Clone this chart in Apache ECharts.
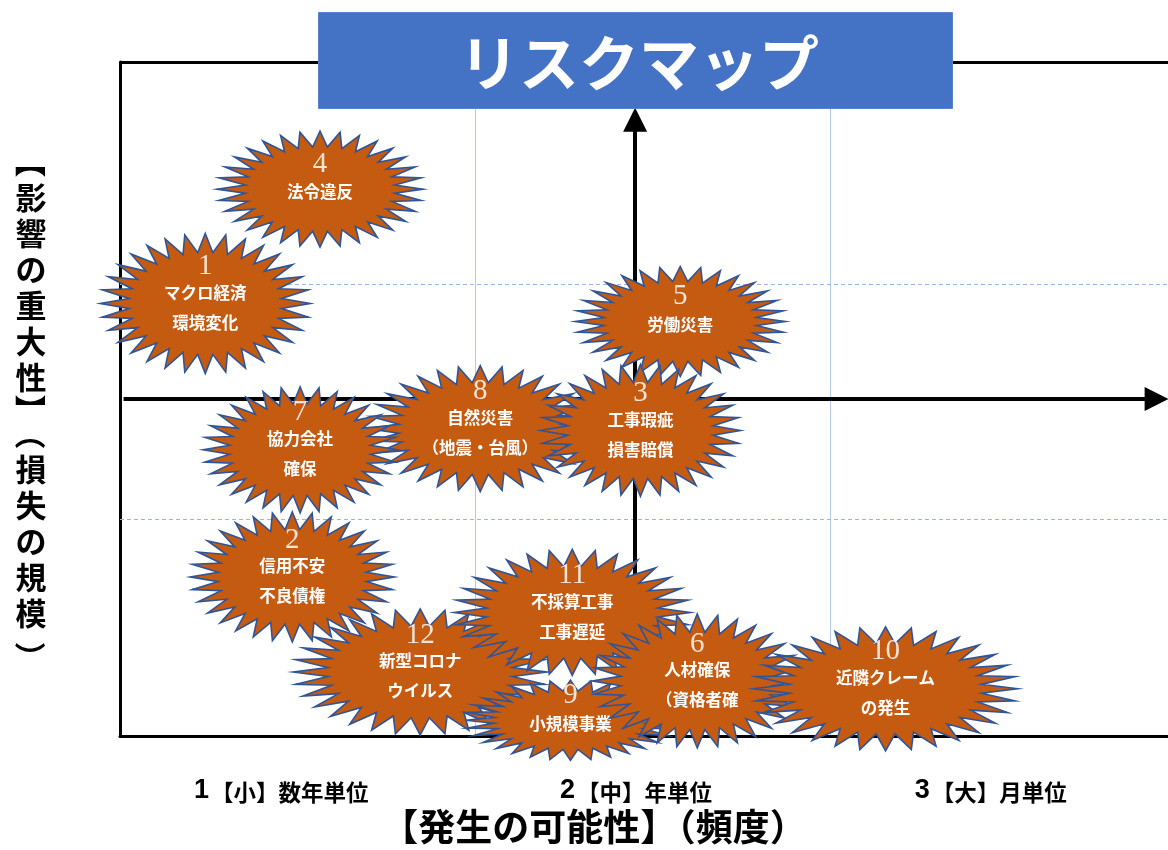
<!DOCTYPE html>
<html>
<head>
<meta charset="utf-8">
<script src="https://cdn.jsdelivr.net/npm/echarts@6/dist/echarts.min.js"></script>
<style>
html,body{margin:0;padding:0;background:#fff;}
#chart{width:1168px;height:850px;}
</style>
</head>
<body>
<div id="chart"></div>
<script>
// ---- data ----
const chartTitle = 'リスクマップ';
const xAxisTitle = '【発生の可能性】（頻度）';
const yAxisTitle = '【影響の重大性】（損失の規模）';
const tickLabels = ['1【小】数年単位', '2【中】年単位', '3【大】月単位'];
const riskIds = [1, 2, 3, 4, 5, 6, 7, 8, 9, 10, 11, 12];
const riskLine1 = ['マクロ経済', '信用不安', '工事瑕疵', '法令違反', '労働災害', '人材確保', '協力会社', '自然災害', '小規模事業', '近隣クレーム', '不採算工事', '新型コロナ'];
const riskLine2 = ['環境変化', '不良債権', '損害賠償', '', '', '（資格者確', '確保', '（地震・台風）', '', 'の発生', '工事遅延', 'ウイルス'];
const likelihood = [0.24, 0.485, 1.465, 0.563, 1.577, 1.625, 0.507, 1.014, 1.268, 2.155, 1.273, 0.845];
const impact = [1.925, 0.708, 1.36, 2.434, 1.845, 0.245, 1.274, 1.368, 0.07, 0.21, 0.55, 0.285];

// ---- style (sizes of the bursts in px, drawing order, title glyph layout) ----
const burstRadii = [[105,70],[102,65],[100,66],[103,58],[105,55],[105,67],[97,63],[112,63],[105,40],[132,62],[118,63],[127,63]];
const drawOrder = [4, 1, 5, 8, 3, 7, 2, 12, 11, 9, 6, 10];
const yTitleCenters = [162, 197, 233, 269, 305, 341, 377, 410, 434, 469, 505, 541, 577, 613, 657];

const CJK = '"Noto Sans CJK JP", "Noto Sans", sans-serif';

const burstData = drawOrder.map(function (id) {
  const i = riskIds.indexOf(id);
  return { value: [likelihood[i], impact[i], i] };
});

const chart = echarts.init(document.getElementById('chart'));

function renderBurst(params, api) {
  const i = api.value(2);
  const c = api.coord([api.value(0), api.value(1)]);
  const rx = burstRadii[i][0], ry = burstRadii[i][1];
  const n = 32;
  const pts = [];
  for (let k = 0; k < 2 * n; k++) {
    const a = Math.PI * k / n - Math.PI / 2;
    const r = (k % 2 === 0) ? 1 : 0.73;
    pts.push([c[0] + Math.cos(a) * rx * r, c[1] + Math.sin(a) * ry * r]);
  }
  const two = riskLine2[i] !== '';
  const children = [
    { type: 'polygon', shape: { points: pts },
      style: { fill: '#C55A11', stroke: '#2F5597', lineWidth: 1.6 } },
    { type: 'text', x: c[0], y: c[1] + (two ? -37 : -25),
      style: { text: String(riskIds[i]), fill: '#F7E4D6', fontSize: 29,
               fontFamily: '"Liberation Serif", "DejaVu Serif", serif',
               align: 'center', verticalAlign: 'middle' } },
    { type: 'text', x: c[0], y: c[1] + (two ? -11 : 3),
      style: { text: riskLine1[i], fill: '#FFFFFF', fontSize: 16.5, fontWeight: 'bold',
               fontFamily: CJK, align: 'center', verticalAlign: 'middle' } }
  ];
  if (two) {
    children.push({ type: 'text', x: c[0], y: c[1] + 19,
      style: { text: riskLine2[i], fill: '#FFFFFF', fontSize: 16.5, fontWeight: 'bold',
               fontFamily: CJK, align: 'center', verticalAlign: 'middle' } });
  }
  return { type: 'group', children: children };
}

const yTitleGraphics = yAxisTitle.split('').map(function (ch, k) {
  const bracket = '【】（）'.indexOf(ch) >= 0;
  return { type: 'group', x: 31, y: yTitleCenters[k], z: 50,
    rotation: bracket ? -Math.PI / 2 : 0,
    children: [{ type: 'text', x: 0, y: 0, z: 50,
      style: { text: ch, fill: '#000', fontSize: 31, fontWeight: 'bold', fontFamily: CJK,
               align: 'center', verticalAlign: 'middle' } }] };
});

const option = {
  animation: false,
  backgroundColor: '#ffffff',
  grid: [
    { left: 120, right: 0, top: 62, bottom: 110 },
    { left: 104, right: 0, top: 62, bottom: 110 }
  ],
  xAxis: [
    { gridIndex: 0, type: 'value', min: 0, max: 2.95, interval: 1,
      axisLine: { show: true, lineStyle: { color: '#000', width: 3 } },
      axisTick: { show: false }, axisLabel: { show: false },
      splitLine: { show: true, lineStyle: { color: '#B4C7E7', width: 1, type: 'solid' } },
      name: xAxisTitle, nameLocation: 'middle', nameGap: 72,
      nameTextStyle: { fontSize: 37, fontWeight: 'bold', color: '#000', fontFamily: CJK,
                       lineHeight: 37, padding: [0, 100, 0, 0] } },
    { gridIndex: 1, type: 'category', data: tickLabels, boundaryGap: true,
      axisLine: { show: false }, axisTick: { show: false }, splitLine: { show: false },
      axisLabel: { margin: 37, interval: 0,
        formatter: function (v) { return '{d|' + v.charAt(0) + '}{t|' + v.slice(1) + '}'; },
        rich: {
          d: { fontSize: 27, fontWeight: 'bold', color: '#000', fontFamily: '"Liberation Sans", Arial, sans-serif', lineHeight: 28 },
          t: { fontSize: 22.5, fontWeight: 'bold', color: '#000', fontFamily: CJK, lineHeight: 28, padding: [3, 0, 0, 2] }
        } } }
  ],
  yAxis: [
    { gridIndex: 0, type: 'value', min: 0, max: 3, interval: 1,
      axisLine: { show: true, lineStyle: { color: '#000', width: 3 } },
      axisTick: { show: false }, axisLabel: { show: false },
      splitLine: { show: false } },
    { gridIndex: 1, type: 'value', show: false, min: 0, max: 3 }
  ],
  graphic: [
    { type: 'rect', left: 318, top: 12, z: 100,
      shape: { width: 634, height: 96 },
      style: { fill: '#4472C4', stroke: '#5A82CC', lineWidth: 1 } },
    { type: 'text', x: 639, y: 63, z: 101,
      style: { text: chartTitle, fill: '#FFFFFF', fontSize: 60, fontWeight: 'bold',
               fontFamily: CJK, align: 'center', verticalAlign: 'middle' } }
  ].concat(yTitleGraphics),
  series: [
    { type: 'line', xAxisIndex: 0, yAxisIndex: 0, data: [], silent: true,
      markLine: {
        silent: true, z: 1, symbol: ['none', 'triangle'], symbolSize: 24,
        label: { show: false }, emphasis: { disabled: true },
        lineStyle: { color: '#000', width: 4, type: 'solid' },
        data: [
          [{ coord: [0, 0.965], symbol: 'none', lineStyle: { color: '#9DB5E0', width: 1, type: [4, 3] } }, { coord: [2.95, 0.965], symbol: 'none' }],
          [{ coord: [0, 2.01], symbol: 'none', lineStyle: { color: '#9DB5E0', width: 1, type: [4, 3] } }, { coord: [2.95, 2.01], symbol: 'none' }],
          [{ coord: [0.01, 1.5] }, { coord: [2.918, 1.5] }],
          [{ coord: [1.45, 0] }, { coord: [1.45, 2.743] }],
          [{ coord: [0, 3], symbol: 'none', lineStyle: { width: 3 } }, { coord: [2.95, 3], symbol: 'none' }]
        ]
      } },
    { type: 'custom', xAxisIndex: 0, yAxisIndex: 0, z: 3, clip: false,
      renderItem: renderBurst, data: burstData }
  ]
};
chart.setOption(option);
</script>
</body>
</html>
